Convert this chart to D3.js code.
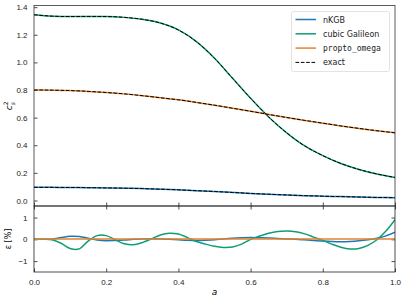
<!DOCTYPE html>
<html>
<head>
<meta charset="utf-8">
<script src="https://cdn.jsdelivr.net/npm/d3@7"></script>
<style>
  body { margin: 0; background: #fff; }
  svg { display: block; font-family: "DejaVu Sans", sans-serif; }
</style>
</head>
<body>
<svg id="chart" width="407" height="302"></svg>
<script>
// scale factor a for the top panel
const aTop = [0, 0.05, 0.1, 0.15, 0.2, 0.25, 0.3, 0.35, 0.4, 0.45, 0.5,
  0.55, 0.6, 0.65, 0.7, 0.75, 0.8, 0.85, 0.9, 0.95, 1.0]

const nKGB = [0.095, 0.095, 0.094, 0.093, 0.091, 0.089, 0.086, 0.082, 0.077, 0.071, 0.065,
  0.058, 0.051, 0.045, 0.040, 0.035, 0.031, 0.028, 0.025, 0.022, 0.020]
const cubicGalileon = [1.345, 1.335, 1.332, 1.333, 1.332, 1.326, 1.312, 1.285, 1.235, 1.150, 1.030,
  0.885, 0.740, 0.605, 0.490, 0.395, 0.325, 0.268, 0.225, 0.192, 0.167]
const proptoOmega = [0.800, 0.799, 0.796, 0.790, 0.782, 0.772, 0.759, 0.744, 0.729, 0.710, 0.690,
  0.668, 0.646, 0.623, 0.601, 0.580, 0.560, 0.540, 0.522, 0.505, 0.490]

// exact solutions (dashed)
const exactKGB = [0.095, 0.095, 0.094, 0.093, 0.091, 0.089, 0.086, 0.082, 0.077, 0.071, 0.065,
  0.058, 0.051, 0.045, 0.040, 0.035, 0.031, 0.028, 0.025, 0.022, 0.020]
const exactGalileon = [1.345, 1.335, 1.332, 1.333, 1.332, 1.326, 1.312, 1.285, 1.235, 1.150, 1.030,
  0.885, 0.740, 0.605, 0.490, 0.395, 0.325, 0.268, 0.225, 0.192, 0.167]
const exactOmega = [0.800, 0.799, 0.796, 0.790, 0.782, 0.772, 0.759, 0.744, 0.729, 0.710, 0.690,
  0.668, 0.646, 0.623, 0.601, 0.580, 0.560, 0.540, 0.522, 0.505, 0.490]

// relative error in %, bottom panel
const aErr = d3.range(41).map(i => i / 40)
const errKGB = [0, 0, 0.01, 0.08, 0.14, 0.13, 0.05, -0.03, -0.06, -0.05, -0.03,
  0, 0.02, 0.03, 0.02, 0, -0.02, -0.04, -0.05, -0.04, -0.02,
  0.02, 0.05, 0.07, 0.08, 0.07, 0.06, 0.04, 0.02, 0, -0.02,
  -0.05, -0.08, -0.10, -0.11, -0.10, -0.07, -0.02, 0.05, 0.16, 0.33]
const errGalileon = [0, 0, -0.02, -0.18, -0.42, -0.44, -0.08, 0.17, 0.17, -0.02, -0.20,
  -0.25, -0.15, 0.02, 0.20, 0.28, 0.24, 0.08, -0.10, -0.22, -0.32,
  -0.37, -0.35, -0.22, 0, 0.15, 0.28, 0.36, 0.38, 0.35, 0.25,
  0.10, -0.05, -0.22, -0.36, -0.44, -0.42, -0.28, -0.02, 0.38, 0.90]
const errOmega = [0, 0.01, 0.01, 0.01, 0.01, 0.01, 0.01, 0.01, 0.01, 0.01, 0.01,
  0.01, 0.01, 0.01, 0.01, 0.01, 0.01, 0.01, 0.01, 0.01, 0.01,
  0.01, 0.01, 0.01, 0.01, 0.01, 0.01, 0.01, 0.01, 0.01, 0.01,
  0.01, 0.01, 0.01, 0.01, 0.01, 0.01, 0.01, 0.01, 0.01, 0.01]

const xTicks = [0, 0.2, 0.4, 0.6, 0.8, 1.0]
const yTopTicks = [0, 0.2, 0.4, 0.6, 0.8, 1.0, 1.2, 1.4]
const yErrTicks = [-1, 0, 1]

const colors = { nKGB: '#1f77b4', gal: '#0f9d76', omega: '#e5832f' }

const svg = d3.select('#chart')
const left = 34, right = 395
const topY0 = 5.5, topY1 = 206, botY1 = 272

const x = d3.scaleLinear().domain([0, 1]).range([left, right])
const yTop = d3.scaleLinear().domain([-0.04, 1.412]).range([topY1, topY0])
const yErr = d3.scaleLinear().domain([-1.5, 1.53]).range([botY1, topY1])

svg.append('defs').selectAll('clipPath')
  .data([['clipTop', topY0, topY1], ['clipBot', topY1, botY1]])
  .enter().append('clipPath')
    .attr('id', d => d[0])
  .append('rect')
    .attr('x', left).attr('y', d => d[1])
    .attr('width', right - left).attr('height', d => d[2] - d[1])

function styleAxis (g) {
  g.select('.domain').remove()
  g.selectAll('.tick line').attr('stroke', '#222').attr('stroke-width', 0.8)
  g.selectAll('.tick text').attr('fill', '#222').style('font-size', '8px')
}

// top panel axes
svg.append('g')
  .attr('transform', `translate(${left},0)`)
  .call(d3.axisLeft(yTop).tickValues(yTopTicks).tickFormat(d3.format('.1f'))
    .tickSizeInner(-3.5).tickPadding(6.5))
  .call(styleAxis)
svg.append('g')
  .attr('transform', `translate(0,${topY1})`)
  .call(d3.axisBottom(x).tickValues(xTicks).tickFormat('').tickSizeInner(-3.5))
  .call(styleAxis)

// bottom panel axes
svg.append('g')
  .attr('transform', `translate(${left},0)`)
  .call(d3.axisLeft(yErr).tickValues(yErrTicks).tickFormat(d => d < 0 ? '\u2212' + Math.abs(d) : d)
    .tickSizeInner(-3.5).tickPadding(6.5))
  .call(styleAxis)
svg.append('g')
  .attr('transform', `translate(${right},0)`)
  .call(d3.axisRight(yErr).tickValues(yErrTicks).tickFormat('').tickSizeInner(-3.5))
  .call(styleAxis)
svg.append('g')
  .attr('transform', `translate(0,${topY1})`)
  .call(d3.axisTop(x).tickValues(xTicks).tickFormat('').tickSizeInner(-3.5))
  .call(styleAxis)
svg.append('g')
  .attr('transform', `translate(0,${botY1})`)
  .call(d3.axisBottom(x).tickValues(xTicks).tickFormat(d3.format('.1f'))
    .tickSizeInner(-3.5).tickPadding(7))
  .call(styleAxis)

// top panel curves
const lineTop = d3.line()
  .x(d => x(d[0]))
  .y(d => yTop(d[1]))
  .curve(d3.curveMonotoneX)

const topSeries = [
  { vals: nKGB, color: colors.nKGB },
  { vals: cubicGalileon, color: colors.gal },
  { vals: proptoOmega, color: colors.omega }
]
const plotTop = svg.append('g').attr('clip-path', 'url(#clipTop)')
plotTop.selectAll('path.model')
  .data(topSeries)
  .enter().append('path')
    .attr('class', 'model')
    .attr('d', s => lineTop(aTop.map((a, i) => [a, s.vals[i]])))
    .attr('fill', 'none')
    .attr('stroke', s => s.color)
    .attr('stroke-width', 1.5)
plotTop.selectAll('path.exact')
  .data([exactKGB, exactGalileon, exactOmega])
  .enter().append('path')
    .attr('class', 'exact')
    .attr('d', v => lineTop(aTop.map((a, i) => [a, v[i]])))
    .attr('fill', 'none')
    .attr('stroke', '#000')
    .attr('stroke-width', 1)
    .attr('stroke-dasharray', '3.7,1.6')

// bottom panel curves
const lineErr = d3.line()
  .x(d => x(d[0]))
  .y(d => yErr(d[1]))
  .curve(d3.curveCatmullRom)

const errSeries = [
  { vals: errKGB, color: colors.nKGB },
  { vals: errGalileon, color: colors.gal },
  { vals: errOmega, color: colors.omega }
]
svg.append('g').attr('clip-path', 'url(#clipBot)')
  .selectAll('path')
  .data(errSeries)
  .enter().append('path')
    .attr('d', s => lineErr(aErr.map((a, i) => [a, s.vals[i]])))
    .attr('fill', 'none')
    .attr('stroke', s => s.color)
    .attr('stroke-width', 1.5)

// frames
svg.append('rect')
  .attr('x', left).attr('y', topY0)
  .attr('width', right - left).attr('height', topY1 - topY0)
  .attr('fill', 'none').attr('stroke', '#333').attr('stroke-width', 0.8)
svg.append('rect')
  .attr('x', left).attr('y', topY1)
  .attr('width', right - left).attr('height', botY1 - topY1)
  .attr('fill', 'none').attr('stroke', '#222').attr('stroke-width', 0.8)

// axis labels
const yLab = svg.append('text')
  .attr('transform', `translate(12,${(topY0 + topY1) / 2}) rotate(-90)`)
  .attr('text-anchor', 'middle')
  .style('font-size', '9px')
  .style('font-style', 'italic')
yLab.append('tspan').text('c')
yLab.append('tspan').attr('dy', 3).style('font-size', '6px').text('s')
yLab.append('tspan').attr('dx', -3).attr('dy', -7).style('font-size', '6px').style('font-style', 'normal').text('2')

svg.append('text')
  .attr('transform', `translate(11,${(topY1 + botY1) / 2}) rotate(-90)`)
  .attr('text-anchor', 'middle')
  .style('font-size', '8px')
  .text('\u03b5 [%]')

svg.append('text')
  .attr('x', (left + right) / 2).attr('y', 295)
  .attr('text-anchor', 'middle')
  .style('font-size', '9px')
  .style('font-style', 'italic')
  .text('a')

// legend
const legendItems = [
  { label: 'nKGB', color: colors.nKGB, dash: null, mono: false },
  { label: 'cubic Galileon', color: colors.gal, dash: null, mono: false },
  { label: 'propto_omega', color: colors.omega, dash: null, mono: true },
  { label: 'exact', color: '#000', dash: '3.7,1.6', mono: false }
]
const legend = svg.append('g')
legend.append('rect')
  .attr('x', 291.5).attr('y', 11.5)
  .attr('width', 98).attr('height', 60)
  .attr('rx', 2)
  .attr('fill', '#fff').attr('fill-opacity', 0.8)
  .attr('stroke', '#dcdcdc').attr('stroke-width', 0.8)
const rows = legend.selectAll('g.item')
  .data(legendItems)
  .enter().append('g')
    .attr('class', 'item')
    .attr('transform', (d, i) => `translate(0,${19.5 + i * 14.3})`)
rows.append('line')
  .attr('x1', 295.5).attr('x2', 316)
  .attr('stroke', d => d.color)
  .attr('stroke-width', d => d.dash ? 1 : 1.5)
  .attr('stroke-dasharray', d => d.dash)
rows.append('text')
  .attr('x', 323).attr('y', 3)
  .style('font-size', '8px')
  .style('font-family', d => d.mono ? '"DejaVu Sans Mono", monospace' : null)
  .attr('fill', '#222')
  .text(d => d.label)
</script>
</body>
</html>
